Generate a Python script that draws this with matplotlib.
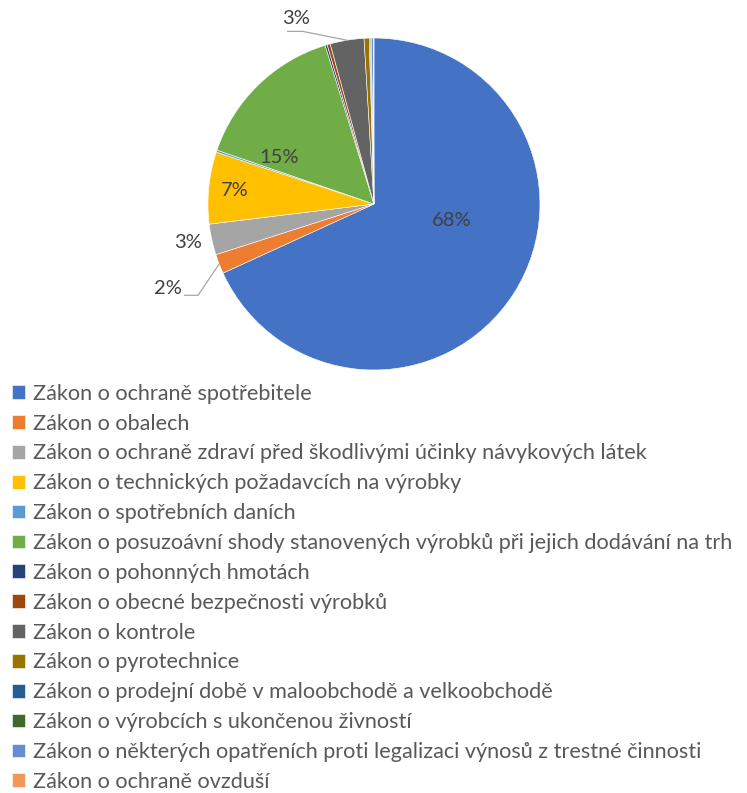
import numpy as np
import matplotlib
matplotlib.use("Agg")
import matplotlib.pyplot as plt

plt.rcParams['font.family'] = ['Lato', 'DejaVu Sans']

# data (share of inspections per law, %)
laws = [
    "Zákon o ochraně spotřebitele",
    "Zákon o obalech",
    "Zákon o ochraně zdraví před škodlivými účinky návykových látek",
    "Zákon o technických požadavcích na výrobky",
    "Zákon o spotřebních daních",
    "Zákon o posuzoávní shody stanovených výrobků při jejich dodávání na trh",
    "Zákon o pohonných hmotách",
    "Zákon o obecné bezpečnosti výrobků",
    "Zákon o kontrole",
    "Zákon o pyrotechnice",
    "Zákon o prodejní době v maloobchodě a velkoobchodě",
    "Zákon o výrobcích s ukončenou živností",
    "Zákon o některých opatřeních proti legalizaci výnosů z trestné činnosti",
    "Zákon o ochraně ovzduší",
]
shares = [68.2, 1.9, 3.0, 7.0, 0.2, 15.0, 0.2, 0.3, 3.3, 0.5, 0.1, 0.1, 0.2, 0.05]
colors = ["#4472C4", "#ED7D31", "#A5A5A5", "#FFC000", "#5B9BD5", "#70AD47",
          "#264478", "#9E480E", "#636363", "#997300", "#255E91", "#43682B",
          "#698ED0", "#F1975A"]

fig = plt.figure(figsize=(7.47, 7.93), dpi=100)
ax = fig.add_axes([0.2784, 0.5334, 0.4444, 0.4187])

wedges, _ = ax.pie(shares, colors=colors, startangle=90, counterclock=False,
                   radius=1.0, wedgeprops=dict(linewidth=0.4, edgecolor="white"))
ax.set_xlim(-1, 1)
ax.set_ylim(-1, 1)
ax.set_axis_off()

total = sum(shares)
txt = "#404040"
# label positions (pie coords) for slices >= 1 %
label_pos = {0: (0.47, -0.10), 1: (-1.24, -0.51), 2: (-1.12, -0.23),
             3: (-0.84, 0.08), 5: (-0.57, 0.28), 8: (-0.47, 1.12)}
for i, (x, y) in label_pos.items():
    pct = round(shares[i] / total * 100)
    ax.text(x, y, f"{pct}%", ha="center", va="center", fontsize=14.5, color=txt,
            clip_on=False)

# leader lines for the small outside labels
for i, (sx, sy), bend in [(1, (-1.14, -0.55), -1.06), (8, (-0.52, 1.04), -0.43)]:
    w = wedges[i]
    th = np.radians((w.theta1 + w.theta2) / 2)
    ex, ey = np.cos(th), np.sin(th)
    ax.plot([sx, bend, ex], [sy, sy, ey], color="#A6A6A6", lw=0.9,
            clip_on=False)

fig.legend(wedges, laws, loc="upper left", bbox_to_anchor=(0.005, 0.527),
           frameon=False, fontsize=15.6, labelcolor="#595959",
           handlelength=0.6, handleheight=0.6, handletextpad=0.35,
           labelspacing=0.455, borderaxespad=0)

fig.savefig("out.png", dpi=100, facecolor="white")
